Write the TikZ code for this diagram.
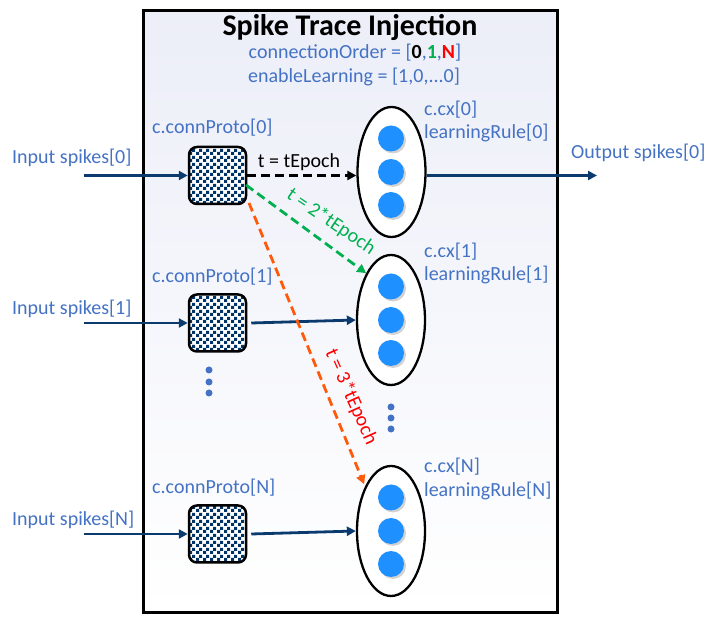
\documentclass[tikz,border=0pt]{standalone}
\usepackage{fontspec}
\setmainfont{Carlito}
\usetikzlibrary{arrows.meta,shapes.geometric,patterns.meta,shadows}
\definecolor{txtblue}{HTML}{4472C4}
\definecolor{navy}{HTML}{0B3B6E}
\definecolor{chknavy}{HTML}{003366}
\definecolor{dotblue}{HTML}{1E90FF}
\definecolor{grn}{HTML}{00B050}
\definecolor{orng}{HTML}{FF5A0A}
\definecolor{bgtop}{HTML}{ECEEF8}
\tikzdeclarepattern{name=chk, type=uncolored, bounding box={(0pt,0pt) and (7pt,7pt)}, tile size={(7pt,7pt)}, code={\fill (0pt,0pt) rectangle (3.5pt,3.5pt); \fill (3.5pt,3.5pt) rectangle (7pt,7pt);}}
\tikzset{
  lbl/.style={text=txtblue, font=\fontsize{20}{23}\selectfont, inner sep=0pt},
  proto/.style={draw=black, line width=2.5pt, rounded corners=8pt, minimum width=57pt, minimum height=57pt, inner sep=0pt, preaction={fill=white}, pattern=chk, pattern color=chknavy},
  grp/.style={ellipse, draw=black, line width=2.3pt, fill=white, minimum width=68pt, minimum height=130pt, inner sep=0pt},
  neuron/.style={circle, fill=dotblue, minimum size=26pt, inner sep=0pt, drop shadow={shadow xshift=2pt, shadow yshift=-2pt, opacity=0.35}},
  smalldot/.style={circle, fill=txtblue, minimum size=7pt, inner sep=0pt},
  wire/.style={draw=navy, line width=2.8pt, -{Triangle[length=9pt,width=9pt]}},
  dwire/.style={line width=2.8pt, dash pattern=on 9pt off 5pt, -{Triangle[length=9pt,width=9pt]}},
  tlbl/.style={font=\fontsize{20}{23}\selectfont, inner sep=0pt},
}
\begin{document}
\begin{tikzpicture}[x=1pt,y=-1pt]
\useasboundingbox (0,0) rectangle (716,617);
% main box
\shade[top color=bgtop, bottom color=white] (143,11) rectangle (557,613);
\draw[line width=3pt] (143,11) rectangle (557,613);
\node[font=\fontsize{30}{34}\selectfont\bfseries, inner sep=0pt] (title) at (350,27) {Spike Trace Injection};
\node[lbl] (order) at (355,53) {connectionOrder = [{\bfseries\color{black}0},{\bfseries\color{grn}1},{\bfseries\color{red}N}]};
\node[lbl] (enable) at (354,77) {enableLearning = [1,0,...0]};
% prototypes
\node[proto] (p0) at (217.5,175.5) {};
\node[proto] (p1) at (217.5,323) {};
\node[proto] (pN) at (217.5,534) {};
\node[lbl, anchor=west] (lp0) at (152,128) {c.connProto[0]};
\node[lbl, anchor=west] (lp1) at (152,277) {c.connProto[1]};
\node[lbl, anchor=west] (lpN) at (152,488) {c.connProto[N]};
\node[smalldot] (pd1) at (209,370) {};
\node[smalldot] (pd2) at (209,382) {};
\node[smalldot] (pd3) at (209,393) {};
% groups
\node[grp] (g0) at (391.5,172) {};
\node[grp] (g1) at (391,320) {};
\node[grp] (gN) at (391,531) {};
\foreach \g/\y in {0/172,1/320,N/531}{
  \node[neuron] (n\g a) at (391,\y-33.5) {};
  \node[neuron] (n\g b) at (391,\y) {};
  \node[neuron] (n\g c) at (391,\y+33) {};
}
\node[smalldot] (gd1) at (391,407) {};
\node[smalldot] (gd2) at (391,418) {};
\node[smalldot] (gd3) at (391,429) {};
\node[lbl, anchor=west] (cx0) at (424,110) {c.cx[0]};
\node[lbl, anchor=west] (lr0) at (424,133) {learningRule[0]};
\node[lbl, anchor=west] (cx1) at (424,252) {c.cx[1]};
\node[lbl, anchor=west] (lr1) at (424,275) {learningRule[1]};
\node[lbl, anchor=west] (cxN) at (424,467) {c.cx[N]};
\node[lbl, anchor=west] (lrN) at (424,491) {learningRule[N]};
% inputs / outputs
\node[lbl, anchor=west] (in0) at (12,158) {Input spikes[0]};
\node[lbl, anchor=west] (in1) at (12,309) {Input spikes[1]};
\node[lbl, anchor=west] (inN) at (12,520) {Input spikes[N]};
\node[lbl, anchor=west] (out0) at (571,153) {Output spikes[0]};
\coordinate (s0) at (84,175.5);
\coordinate (s1) at (84,323);
\coordinate (sN) at (84,534);
\coordinate (o0) at (597,175.5);
\draw[wire] (s0) -- (p0.west);
\draw[wire] (s1) -- (p1.west);
\draw[wire] (sN) -- (pN.west);
\draw[wire] ([xshift=4pt]p1.east) -- (g1.west);
\draw[wire] ([xshift=4pt]pN.east) -- (gN.west);
\draw[wire] (g0.east |- o0) -- (o0);
% timed connections
\draw[dwire, draw=black] (p0.east) -- (g0.west |- p0);
\node[tlbl, text=black] (lt0) at (299,162) {t = tEpoch};
\coordinate (gs) at (246,185);
\coordinate (os) at (249,203);
\draw[dwire, draw=grn] (gs) -- (g1.north west);
\node[tlbl, text=grn, rotate=-34] (lt1) at (331,222) {t = 2*tEpoch};
\draw[dwire, draw=orng] (os) -- ([xshift=-2pt]gN.north west);
\node[tlbl, text=red, rotate=-66] (lt2) at (351,397) {t = 3*tEpoch};
\end{tikzpicture}
\end{document}
